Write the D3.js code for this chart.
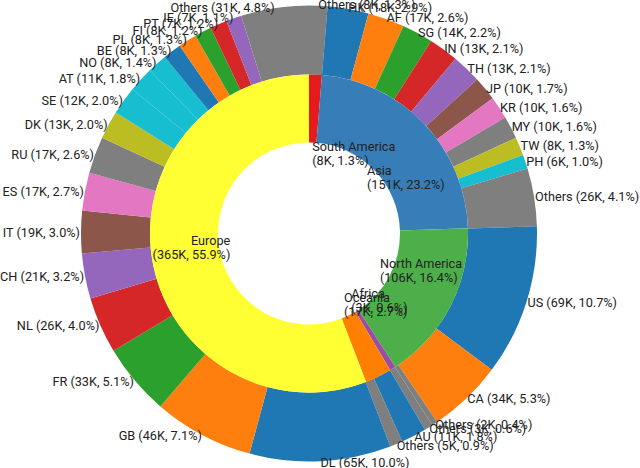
<!DOCTYPE html>
<html>
<head>
<meta charset="utf-8">
<script src="https://cdn.jsdelivr.net/npm/d3@7"></script>
<style>
html, body { margin: 0; padding: 0; background: #fff; }
text { font-family: Roboto, sans-serif; font-size: 12.7px; fill: #222; }
</style>
</head>
<body>
<div id="chart"></div>
<script>
// inner ring: continents, clockwise from 12 o'clock
const regions = ['South America', 'Asia', 'North America', 'Africa', 'Oceania', 'Europe'];
const regionK = [8, 151, 106, 3, 17, 365];
const regionPct = [1.3, 23.2, 16.4, 0.6, 2.7, 55.9];

// outer ring: countries, same order
const countries = [
  'Others',
  'HK', 'AF', 'SG', 'IN', 'TH', 'JP', 'KR', 'MY', 'TW', 'PH', 'Others',
  'US', 'CA', 'Others',
  'Others',
  'AU', 'Others',
  'DL', 'GB', 'FR', 'NL', 'CH', 'IT', 'ES', 'RU', 'DK', 'SE', 'AT', 'NO', 'BE', 'PL', 'FI', 'PT', 'IE', 'Others'
];
const countryK = [
  8,
  18, 17, 14, 13, 13, 10, 10, 10, 8, 6, 26,
  69, 34, 2,
  3,
  11, 5,
  65, 46, 33, 26, 21, 19, 17, 17, 13, 12, 11, 8, 8, 8, 8, 7, 7, 31
];
const countryPct = [
  1.3,
  2.9, 2.6, 2.2, 2.1, 2.1, 1.7, 1.6, 1.6, 1.3, 1.0, 4.1,
  10.7, 5.3, 0.4,
  0.6,
  1.8, 0.9,
  10.0, 7.1, 5.1, 4.0, 3.2, 3.0, 2.7, 2.6, 2.0, 2.0, 1.8, 1.4, 1.3, 1.3, 1.2, 1.2, 1.1, 4.8
];
// index into schemeCategory10
const countryColor = [
  7,
  0, 1, 2, 3, 4, 5, 6, 7, 8, 9, 7,
  0, 1, 7,
  7,
  0, 7,
  0, 1, 2, 3, 4, 5, 6, 7, 8, 9, 9, 9, 0, 1, 2, 3, 4, 7
];

const width = 640, height = 468;
const cx = 309, cy = 233.5;
const rHole = 91, rMid = 159, rOuter = 228;
const rInnerLabel = 80, rOuterLabel = 229;

const svg = d3.select('#chart').append('svg')
  .attr('width', width)
  .attr('height', height)
  .style('display', 'block');

const g = svg.append('g').attr('transform', `translate(${cx},${cy})`);

const pie = d3.pie().sort(null).value(d => d);
const innerArcs = pie(regionPct);
const outerArcs = pie(countryPct);

const midAngle = d => (d.startAngle + d.endAngle) / 2;
const innerArc = d3.arc().innerRadius(rHole).outerRadius(rMid);
const outerArc = d3.arc().innerRadius(rMid).outerRadius(rOuter);

g.selectAll('path.country')
  .data(outerArcs)
  .enter().append('path')
  .attr('class', 'country')
  .attr('d', outerArc)
  .style('fill', (d, i) => d3.schemeCategory10[countryColor[i]]);

g.selectAll('path.region')
  .data(innerArcs)
  .enter().append('path')
  .attr('class', 'region')
  .attr('d', innerArc)
  .style('fill', (d, i) => d3.schemeSet1[i]);

// labels start at the ring edge and grow away from the center
const anchor = d => midAngle(d) > Math.PI ? 'end' : 'start';

g.selectAll('text.country')
  .data(outerArcs)
  .enter().append('text')
  .attr('class', 'country')
  .attr('x', d => rOuterLabel * Math.sin(midAngle(d)))
  .attr('y', d => -rOuterLabel * Math.cos(midAngle(d)))
  .attr('dy', '0.35em')
  .attr('text-anchor', anchor)
  .text((d, i) => `${countries[i]} (${countryK[i]}K, ${countryPct[i].toFixed(1)}%)`);

const regionLabels = g.selectAll('text.region')
  .data(innerArcs)
  .enter().append('text')
  .attr('class', 'region')
  .attr('text-anchor', anchor)
  .attr('transform', d => `translate(${rInnerLabel * Math.sin(midAngle(d))},${-rInnerLabel * Math.cos(midAngle(d))})`);

regionLabels.append('tspan')
  .attr('x', 0)
  .attr('y', -3)
  .text((d, i) => regions[i]);

regionLabels.append('tspan')
  .attr('x', 0)
  .attr('y', 11)
  .text((d, i) => `(${regionK[i]}K, ${regionPct[i].toFixed(1)}%)`);
</script>
</body>
</html>
